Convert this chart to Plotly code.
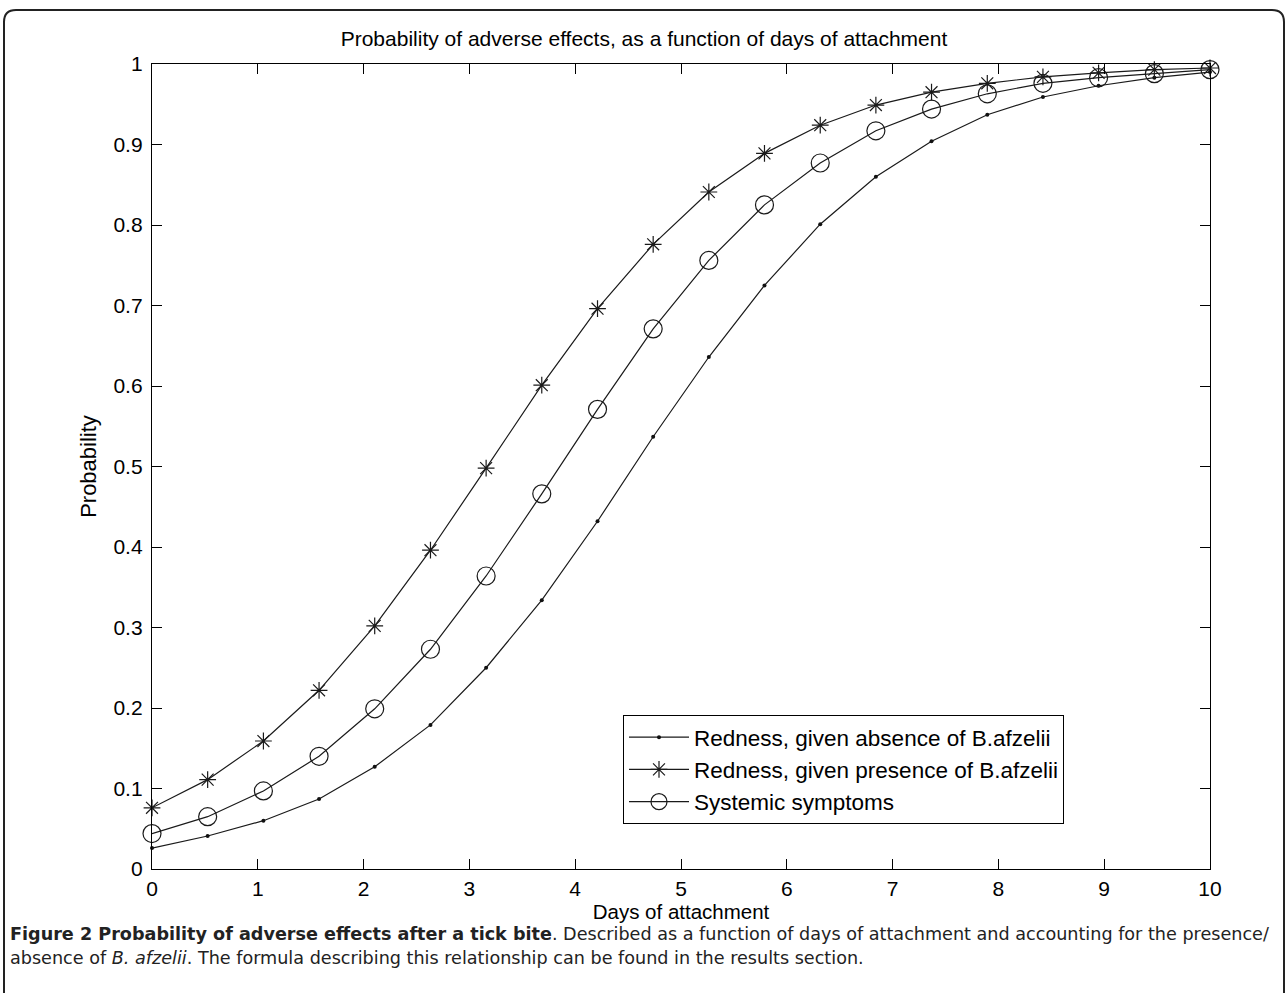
import plotly.graph_objects as go

days = [0.0, 0.526, 1.053, 1.579, 2.105, 2.632, 3.158, 3.684, 4.211, 4.737,
        5.263, 5.789, 6.316, 6.842, 7.368, 7.895, 8.421, 8.947, 9.474, 10.0]

redness_absence = [0.026, 0.041, 0.060, 0.087, 0.127, 0.179, 0.250, 0.334, 0.432, 0.537,
                   0.636, 0.725, 0.801, 0.860, 0.904, 0.937, 0.959, 0.973, 0.983, 0.990]
redness_presence = [0.076, 0.111, 0.159, 0.222, 0.302, 0.396, 0.498, 0.601, 0.696, 0.776,
                    0.841, 0.889, 0.924, 0.949, 0.965, 0.976, 0.984, 0.989, 0.993, 0.995]
systemic = [0.044, 0.065, 0.097, 0.140, 0.199, 0.273, 0.364, 0.466, 0.571, 0.671,
            0.756, 0.825, 0.877, 0.917, 0.944, 0.963, 0.976, 0.983, 0.988, 0.993]

series_names = ["Redness, given absence of B.afzelii",
                "Redness, given presence of B.afzelii",
                "Systemic symptoms"]

x_ticks = list(range(0, 11))
y_ticks = [0, 0.1, 0.2, 0.3, 0.4, 0.5, 0.6, 0.7, 0.8, 0.9, 1]
y_tick_labels = ["0", "0.1", "0.2", "0.3", "0.4", "0.5", "0.6", "0.7", "0.8", "0.9", "1"]

W, H = 1288, 993
L, R, T, B = 152, 78, 64, 124
pw, ph = W - L - R, H - T - B

def px(x):
    return (x - L) / pw

def py(y):
    return (H - B - y) / ph

FONT = "Liberation Sans, Arial"

fig = go.Figure()
line = dict(color="#1a1a1a", width=1.2)
fig.add_trace(go.Scatter(x=days, y=redness_absence, mode="lines+markers", name=series_names[0],
                         line=line, cliponaxis=False,
                         marker=dict(symbol="circle", size=4, color="#111")))
fig.add_trace(go.Scatter(x=days, y=redness_presence, mode="lines+markers", name=series_names[1],
                         line=line, cliponaxis=False,
                         marker=dict(symbol="asterisk-open", size=14,
                                     line=dict(color="#111", width=1.2))))
fig.add_trace(go.Scatter(x=days, y=systemic, mode="lines+markers", name=series_names[2],
                         line=line, cliponaxis=False,
                         marker=dict(symbol="circle-open", size=18,
                                     line=dict(color="#222", width=1.2))))

axis_common = dict(showgrid=False, zeroline=False, showline=True, linecolor="black", linewidth=1.3,
                   mirror="ticks", ticks="inside", ticklen=10, tickcolor="black", tickwidth=1,
                   tickfont=dict(family=FONT, size=21, color="black"))

fig.update_xaxes(range=[0, 10], tickvals=x_ticks, ticktext=[str(v) for v in x_ticks],
                 ticklabelstandoff=1,
                 title=dict(text="Days of attachment", standoff=0,
                            font=dict(family=FONT, size=20.5, color="black")),
                 **axis_common)
fig.update_yaxes(range=[0, 1], tickvals=y_ticks, ticktext=y_tick_labels,
                 ticklabelstandoff=4,
                 title=dict(text="Probability", standoff=10,
                            font=dict(family=FONT, size=22, color="black")),
                 **axis_common)

# rounded border around figure
r = 12
x0, x1, y0, y1 = 4, 1284, 10, 1010
path = (f"M {px(x0)},{py(y1)} L {px(x0)},{py(y0 + r)} Q {px(x0)},{py(y0)} {px(x0 + r)},{py(y0)} "
        f"L {px(x1 - r)},{py(y0)} Q {px(x1)},{py(y0)} {px(x1)},{py(y0 + r)} "
        f"L {px(x1)},{py(y1)}")
fig.add_shape(type="path", path=path, xref="paper", yref="paper",
              line=dict(color="#222", width=2), fillcolor="rgba(0,0,0,0)")

cap_font = dict(family="DejaVu Sans", size=17.6, color="#222")
fig.add_annotation(x=px(8), y=py(934), xref="paper", yref="paper", xanchor="left", yanchor="middle",
                   showarrow=False, font=cap_font, align="left",
                   text="<b>Figure 2 Probability of adverse effects after a tick bite</b>. "
                        "Described as a function of days of attachment and accounting for the presence/")
fig.add_annotation(x=px(8), y=py(958), xref="paper", yref="paper", xanchor="left", yanchor="middle",
                   showarrow=False, font=cap_font, align="left",
                   text="absence of <i>B. afzelii</i>. The formula describing this relationship can be found in the results section.")

fig.update_layout(
    width=W, height=H,
    margin=dict(l=L, r=R, t=T, b=B),
    paper_bgcolor="white", plot_bgcolor="white",
    title=dict(text="Probability of adverse effects, as a function of days of attachment",
               x=px(681), xanchor="center", y=(H - 39) / H, yanchor="middle",
               font=dict(family=FONT, size=21, color="black")),
    showlegend=True,
    legend=dict(x=px(623), y=py(715), xanchor="left", yanchor="top",
                bordercolor="black", borderwidth=1, bgcolor="white",
                font=dict(family=FONT, size=22.5, color="black"),
                itemwidth=60, tracegroupgap=0),
)

fig.write_html("out.html", config={"displayModeBar": False},
               post_script="document.body.style.margin='0';")
